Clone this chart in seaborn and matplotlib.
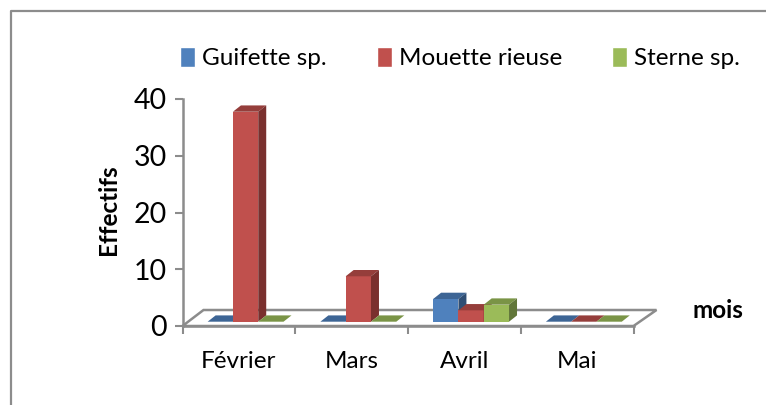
import pandas as pd
import matplotlib.pyplot as plt
import seaborn as sns
from matplotlib.patches import Polygon, Rectangle

# Valeurs
mois = ["Février", "Mars", "Avril", "Mai"]
especes = ["Guifette sp.", "Mouette rieuse", "Sterne sp."]
guifette = [0, 0, 4, 0]
mouette = [37, 8, 2, 0]
sterne = [0, 0, 3, 0]
y_ticks = [0, 10, 20, 30, 40]

couleurs = ["#4F81BD", "#C0504D", "#9BBB59"]
dessus = ["#3D6595", "#953E3B", "#7A9446"]
cotes = ["#2F4E74", "#7A302E", "#62773A"]
gris = "#8C8C8C"

df = pd.DataFrame({"mois": mois, especes[0]: guifette, especes[1]: mouette, especes[2]: sterne})
df = df.melt(id_vars="mois", var_name="espece", value_name="effectif")

sns.set_style("white")
plt.rcParams["font.family"] = ["Lato", "DejaVu Sans"]

W, H = 766, 405
fig = plt.figure(figsize=(W / 100, H / 100), dpi=100)
x0, x1, y_haut, y_bas = 182.5, 633.5, 99, 326
ax = fig.add_axes([x0 / W, 1 - y_bas / H, (x1 - x0) / W, (y_bas - y_haut) / H])

sns.barplot(data=df, x="mois", y="effectif", hue="espece", hue_order=especes,
            palette=couleurs, width=0.673, saturation=1, gap=0, linewidth=0, ax=ax, legend=False)
ax.set_xlim(-0.5, 3.5)
ax.set_ylim(0, 40)

# Echelles pixels -> donnees pour la perspective
px = 4 / (x1 - x0)
py = 40 / (y_bas - y_haut)

# Sol en perspective
sol = [(-0.5, 0), (-0.5 + 21 * px, 16 * py), (3.5 + 23 * px, 16 * py), (3.5, 0)]
ax.add_patch(Polygon(sol, closed=True, fill=False, edgecolor=gris, lw=1.8, clip_on=False, zorder=1))

# Barres decalees sur le sol, avec dessus et cote
prof_x, prof_y = 8 * px, 6.3 * py
for rang, (container, c_dessus, c_cote) in enumerate(zip(ax.containers, dessus, cotes)):
    for barre in container:
        barre.set_x(barre.get_x() + 6.7 * px)
        barre.set_y(4.3 * py)
        barre.set_zorder(3 + rang)
        barre.set_clip_on(False)
        g, b, l, h = barre.get_x(), barre.get_y(), barre.get_width(), barre.get_height()
        ax.add_patch(Polygon([(g, b + h), (g + prof_x, b + h + prof_y), (g + l + prof_x, b + h + prof_y), (g + l, b + h)],
                             closed=True, facecolor=c_dessus, edgecolor="none", clip_on=False, zorder=3 + rang))
        ax.add_patch(Polygon([(g + l, b), (g + l + prof_x, b + prof_y), (g + l + prof_x, b + h + prof_y), (g + l, b + h)],
                             closed=True, facecolor=c_cote, edgecolor="none", clip_on=False, zorder=3 + rang))

# Axes
sns.despine(ax=ax, top=True, right=True)
for cote in ["left", "bottom"]:
    ax.spines[cote].set_color(gris)
    ax.spines[cote].set_linewidth(1.8)
    ax.spines[cote].set_zorder(2)
ax.set_yticks(y_ticks)
ax.set_xticks([-0.5, 0.5, 1.5, 2.5, 3.5], labels=[])
ax.tick_params(axis="both", which="major", length=5.5, width=1.5, color=gris, left=True, bottom=True)
ax.tick_params(axis="y", labelsize=20.5, pad=6, labelcolor="black")
for i, nom in enumerate(mois):
    ax.annotate(nom, (i, 0), xytext=(0, -36), textcoords="offset pixels", ha="center", va="center",
                fontsize=17.5, color="black", annotation_clip=False)

ax.set_xlabel("")
ax.set_ylabel("")
fig.text(108 / W, 1 - 210 / H, "Effectifs", rotation=90, ha="center", va="center", fontsize=17.5, fontweight="bold", color="black")
fig.text(693 / W, 1 - 311 / H, "mois", ha="left", va="center", fontsize=17.5, fontweight="bold", color="black")

# Legende
poignees = [Rectangle((0, 0), 1, 1, facecolor=c) for c in couleurs]
fig.legend(poignees, especes, ncol=3, frameon=False, fontsize=17.5, loc="center", labelcolor="black",
           bbox_to_anchor=(460 / W, 1 - 58 / H), handlelength=0.62, handleheight=0.9,
           handletextpad=0.29, columnspacing=2.05)

# Cadre du graphique
fig.add_artist(plt.Line2D([11 / W, 11 / W, 1], [0, 1 - 11 / H, 1 - 11 / H], color=gris, lw=1.6))

fig.savefig("out.png", dpi=100)
